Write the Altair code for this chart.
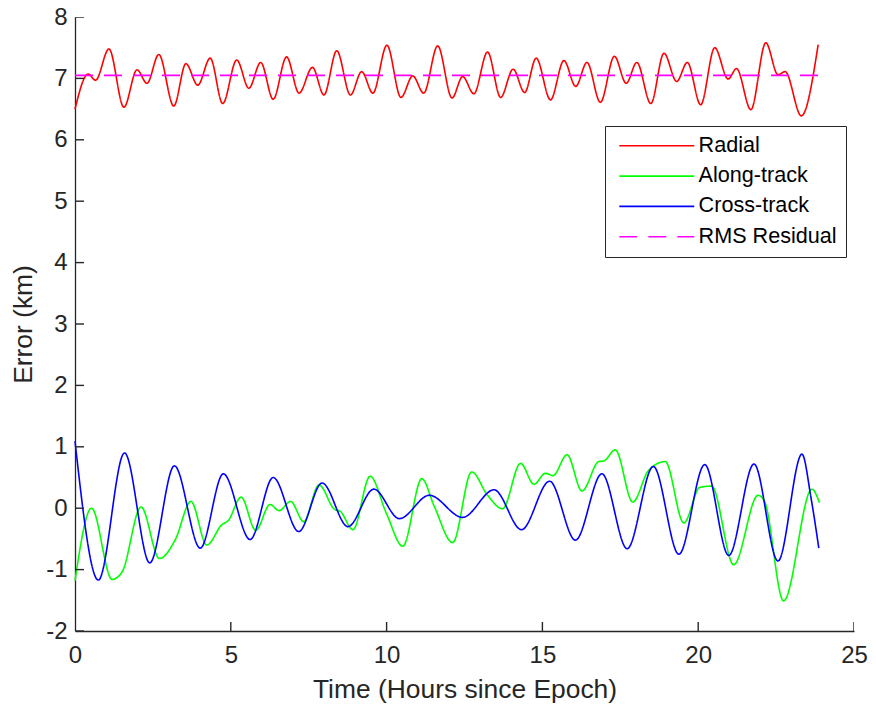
import altair as alt
import pandas as pd

# ---- data ----
t_radial = [0.0, 0.42, 0.66, 1.09, 1.57, 1.99, 2.31, 2.69, 3.17, 3.56, 3.94, 4.34, 4.74, 5.19,
            5.58, 5.96, 6.36, 6.79, 7.19, 7.62, 7.99, 8.40, 8.84, 9.20, 9.56, 10.01, 10.46,
            10.84, 11.19, 11.64, 12.10, 12.44, 12.80, 13.24, 13.66, 14.06, 14.43, 14.80,
            15.26, 15.69, 16.07, 16.43, 16.86, 17.31, 17.69, 18.03, 18.48, 18.90, 19.31,
            19.65, 20.08, 20.53, 20.96, 21.23, 21.69, 22.17, 22.56, 22.79, 23.31, 23.85]
v_radial = [6.50, 7.07, 6.97, 7.48, 6.53, 7.14, 6.92, 7.39, 6.55, 7.24, 6.89, 7.33, 6.59, 7.30,
            6.84, 7.26, 6.66, 7.35, 6.76, 7.18, 6.73, 7.45, 6.73, 7.11, 6.76, 7.54, 6.69,
            7.04, 6.76, 7.53, 6.68, 7.03, 6.75, 7.43, 6.69, 7.15, 6.77, 7.33,
            6.65, 7.29, 6.87, 7.26, 6.61, 7.36, 6.92, 7.26, 6.59, 7.41, 6.95,
            7.26, 6.57, 7.50, 6.99, 7.16, 6.49, 7.58, 7.06, 7.11, 6.39, 7.55]

t_along = [0.0, 0.53, 1.19, 1.51, 2.12, 2.71, 3.22, 3.72, 4.23, 4.71, 4.92, 5.33, 5.80, 6.26,
           6.55, 6.92, 7.34, 7.83, 8.33, 8.51, 8.92, 9.47, 9.99, 10.52, 11.13, 11.53, 12.12,
           12.73, 13.24, 13.72, 14.30, 14.73, 15.10, 15.34, 15.79, 16.27, 16.81, 16.97, 17.34,
           17.90, 18.40, 18.94, 19.54, 20.05, 20.43, 21.14, 21.92, 22.13, 22.74, 23.65, 23.89]
v_along = [-1.18, 0.00, -1.16, -1.04, 0.02, -0.82, -0.51, 0.11, -0.60, -0.27, -0.20, 0.18, -0.36,
           0.06, -0.04, 0.11, -0.22, 0.38, -0.02, -0.05, -0.35, 0.52, -0.08, -0.62, 0.48, 0.03,
           -0.56, 0.59, 0.21, -0.01, 0.73, 0.39, 0.57, 0.53, 0.87, 0.28, 0.76, 0.77, 0.95,
           0.10, 0.61, 0.76, -0.24, 0.34, 0.36, -0.92, 0.21, 0.11, -1.51, 0.31, 0.09]

t_cross = [0.0, 0.75, 1.59, 2.40, 3.19, 4.02, 4.76, 5.62, 6.36, 7.18, 7.93, 8.76, 9.59, 10.41,
           11.37, 12.44, 13.45, 14.33, 15.23, 16.06, 16.91, 17.72, 18.56, 19.38, 20.21, 20.98,
           21.79, 22.56, 23.33, 23.62, 23.87]
v_cross = [1.09, -1.17, 0.90, -0.89, 0.69, -0.65, 0.56, -0.51, 0.50, -0.38, 0.41, -0.30, 0.31,
           -0.17, 0.21, -0.15, 0.30, -0.35, 0.44, -0.52, 0.56, -0.66, 0.68, -0.75, 0.71, -0.77,
           0.72, -0.86, 0.88, 0.17, -0.65]

t_rms = [0.0, 23.85]
v_rms = [7.05, 7.05]

series_names = ["Radial", "Along-track", "Cross-track", "RMS Residual"]
series_colors = ["#FF0000", "#00FF00", "#0000FF", "#FF00FF"]
series_dashes = [[1, 0], [1, 0], [1, 0], [18, 11]]

x_tick_values = [0, 5, 10, 15, 20, 25]
y_tick_values = [-2, -1, 0, 1, 2, 3, 4, 5, 6, 7, 8]

rows = []
for name, ts, vs in [("Radial", t_radial, v_radial), ("Along-track", t_along, v_along),
                     ("Cross-track", t_cross, v_cross), ("RMS Residual", t_rms, v_rms)]:
    for t, v in zip(ts, vs):
        rows.append({"t": t, "v": v, "series": name})
df = pd.DataFrame(rows)

AX = "#262626"
FONT = "Liberation Sans"

x_scale = alt.Scale(domain=[0, 25], nice=False, zero=False)
y_scale = alt.Scale(domain=[-2, 8], nice=False, zero=False)

x_axis = alt.Axis(values=x_tick_values, title="Time (Hours since Epoch)", tickSize=0,
                  labelPadding=12, titlePadding=9, grid=False, labelFlush=False, format="d")
y_axis = alt.Axis(values=y_tick_values, title="Error (km)", tickSize=0,
                  labelPadding=8, titlePadding=8, grid=False, labelFlush=False,
                  labelExpr="'' + datum.value")

legend = alt.Legend(title=None, orient="none", legendX=530, legendY=109,
                    symbolType="M-6,0H6", symbolSize=156, symbolStrokeWidth=1.6,
                    symbolOffset=32, labelOffset=31, padding=9, rowPadding=7.3,
                    strokeColor=AX, fillColor="white", labelFontSize=21.6,
                    labelFont=FONT, labelColor="#000000")

lines = alt.Chart(df).mark_line(interpolate="monotone", strokeWidth=1.6).encode(
    x=alt.X("t:Q", scale=x_scale, axis=x_axis),
    y=alt.Y("v:Q", scale=y_scale, axis=y_axis),
    color=alt.Color("series:N", scale=alt.Scale(domain=series_names, range=series_colors),
                    legend=legend),
    strokeDash=alt.StrokeDash("series:N", scale=alt.Scale(domain=series_names, range=series_dashes),
                              legend=legend),
)

xt = alt.Chart(pd.DataFrame({"t": x_tick_values})).mark_tick(
    orient="vertical", size=18, thickness=1.4, color=AX, clip=True, opacity=1
).encode(x=alt.X("t:Q", scale=x_scale, axis=x_axis), y=alt.datum(-2))

yt = alt.Chart(pd.DataFrame({"v": y_tick_values})).mark_tick(
    orient="horizontal", size=18, thickness=1.4, color=AX, clip=True, opacity=1
).encode(y=alt.Y("v:Q", scale=y_scale, axis=y_axis), x=alt.datum(0))

chart = alt.layer(lines, xt, yt).properties(
    width=779, height=614,
    padding={"left": 67, "top": 9, "right": 14, "bottom": 76},
    autosize=alt.AutoSizeParams(type="none"),
).configure_view(stroke=None).configure_axis(
    domainColor=AX, domainWidth=1.3, labelColor=AX, titleColor=AX,
    labelFont=FONT, titleFont=FONT, labelFontSize=24, titleFontSize=26.4,
    titleFontWeight="normal",
)

chart.save("out.html", embed_options={"renderer": "svg", "actions": False})
